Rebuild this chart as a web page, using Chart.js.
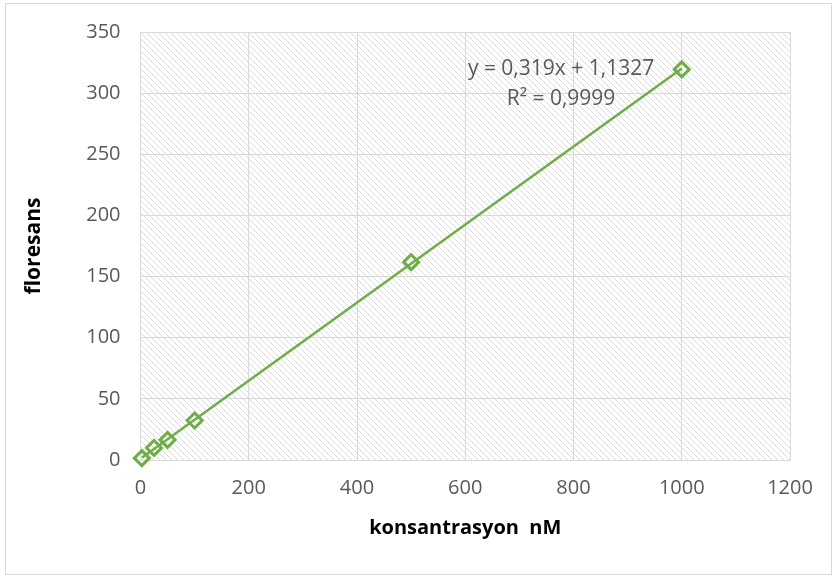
<!DOCTYPE html>
<html>
<head>
<meta charset="utf-8">
<script src="https://cdn.jsdelivr.net/npm/chart.js@4"></script>
<style>
  html, body { margin: 0; padding: 0; background: #fff; }
  #wrap { width: 833px; height: 576px; position: relative; }
</style>
</head>
<body>
<div id="wrap"><canvas id="chart"></canvas></div>
<script>
// veriler
const konsantrasyon = [2.5, 25, 50, 100, 500, 1000];
const floresans = [1.5, 9.9, 16.5, 32.3, 161.8, 319.4];
const egim = 0.319;
const kesisim = 1.1327;
const denklemYazisi = ["y = 0,319x + 1,1327", "R² = 0,9999"];

const xMin = 0, xMax = 1200, xStep = 200;
const yMin = 0, yMax = 350, yStep = 50;

const yesil = "#70AD47";
const yaziRengi = "#595959";
const fontAile = "'Open Sans', 'DejaVu Sans', sans-serif";

// trend çizgisi (ilk noktadan son noktaya)
const trend = [konsantrasyon[0], konsantrasyon[konsantrasyon.length - 1]].map((x) => ({
  x,
  y: egim * x + kesisim,
}));

// taralı arka plan deseni
const desenOlustur = () => {
  const c = document.createElement("canvas");
  c.width = 6;
  c.height = 6;
  const g = c.getContext("2d");
  g.strokeStyle = "#dadada";
  g.lineWidth = 1;
  g.beginPath();
  for (let k = -6; k <= 12; k += 6) {
    g.moveTo(k, 0);
    g.lineTo(k + 6, 6);
  }
  g.stroke();
  return c;
};

const arkaPlan = {
  id: "arkaPlan",
  beforeDraw(chart) {
    const { ctx, chartArea: a } = chart;
    ctx.save();
    ctx.strokeStyle = "#d9d9d9";
    ctx.lineWidth = 1;
    ctx.strokeRect(5.5, 3.5, 826, 571);
    ctx.fillStyle = ctx.createPattern(desenOlustur(), "repeat");
    ctx.fillRect(a.left, a.top, a.right - a.left, a.bottom - a.top);
    ctx.restore();
  },
  afterDatasetsDraw(chart) {
    const { ctx, scales } = chart;
    ctx.save();
    ctx.fillStyle = yaziRengi;
    ctx.font = "21px " + fontAile;
    ctx.textAlign = "center";
    ctx.textBaseline = "middle";
    const px = scales.x.getPixelForValue(777);
    ctx.fillText(denklemYazisi[0], px, scales.y.getPixelForValue(319.5));
    ctx.fillText(denklemYazisi[1], px, scales.y.getPixelForValue(295.5));
    ctx.restore();
  },
};

new Chart(document.getElementById("chart").getContext("2d"), {
  type: "scatter",
  data: {
    datasets: [
      {
        label: "trend",
        data: trend,
        showLine: true,
        borderColor: yesil,
        borderWidth: 2.5,
        pointRadius: 0,
        clip: false,
        order: 2,
      },
      {
        label: "floresans",
        data: konsantrasyon.map((x, i) => ({ x, y: floresans[i] })),
        pointStyle: "rectRot",
        pointRadius: 7.5,
        pointBorderWidth: 3,
        pointBorderColor: yesil,
        pointBackgroundColor: "rgba(255,255,255,0)",
        clip: false,
        order: 1,
      },
    ],
  },
  options: {
    responsive: true,
    maintainAspectRatio: false,
    animation: false,
    layout: { padding: { left: 21, right: 43, top: 32, bottom: 36 } },
    plugins: {
      legend: { display: false },
      tooltip: { enabled: false },
    },
    scales: {
      x: {
        type: "linear",
        min: xMin,
        max: xMax,
        ticks: {
          stepSize: xStep,
          color: yaziRengi,
          font: { family: fontAile, size: 20 },
          padding: 16,
          callback: (v) => String(v),
        },
        grid: { color: "#d9d9d9", drawTicks: false },
        border: { display: false },
        title: {
          display: true,
          text: "konsantrasyon  nM",
          color: "#000",
          font: { family: fontAile, size: 20, weight: "bold" },
          padding: { top: 0, bottom: 0 },
        },
      },
      y: {
        min: yMin,
        max: yMax,
        ticks: {
          stepSize: yStep,
          color: yaziRengi,
          font: { family: fontAile, size: 20 },
          padding: 20,
          callback: (v) => String(v),
        },
        grid: { color: "#d9d9d9", drawTicks: false },
        border: { display: false },
        title: {
          display: true,
          text: "floresans",
          color: "#000",
          font: { family: fontAile, size: 21, weight: "bold" },
          padding: { top: 0, bottom: 20 },
        },
      },
    },
  },
  plugins: [arkaPlan],
});
</script>
</body>
</html>
